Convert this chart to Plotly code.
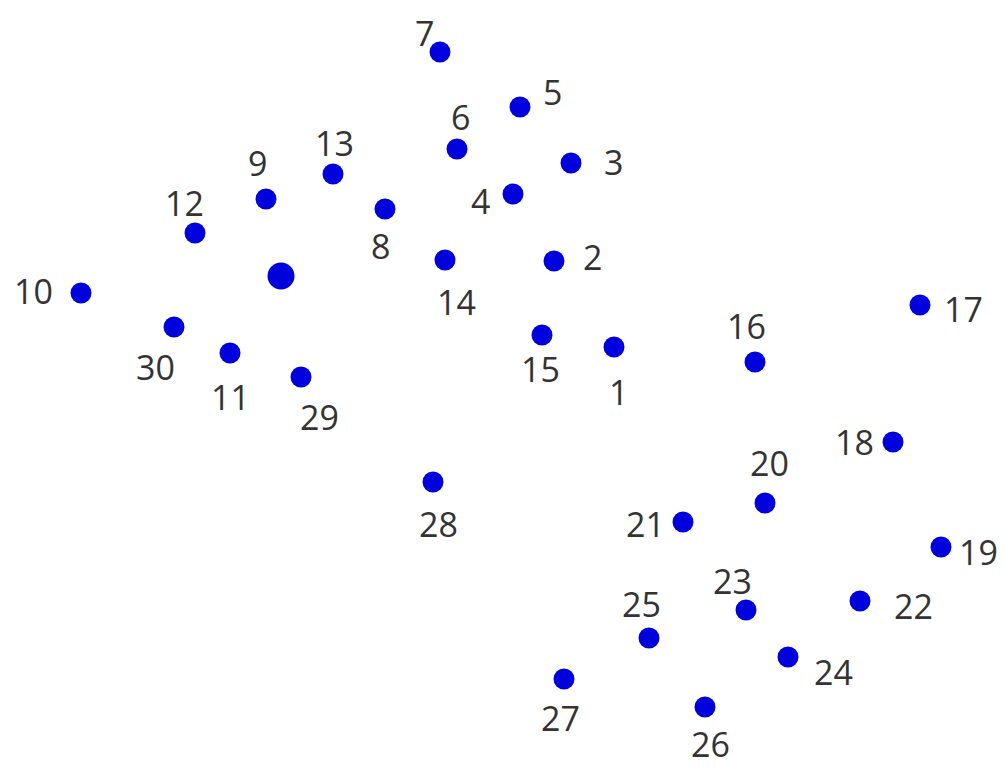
import plotly.graph_objects as go

labels = [str(i) for i in range(1, 31)]
x_vals = [614, 554, 571, 513, 520, 457, 440, 385, 266, 81,
          230, 195, 333, 445, 542, 755, 920, 893, 941, 765,
          683, 860, 746, 788, 649, 705, 564, 433, 301, 174]
y_vals = [347, 261, 163, 194, 107, 149, 52, 209, 199, 293,
          353, 233, 174, 260, 335, 362, 305, 442, 547, 503,
          522, 601, 610, 657, 638, 707, 679, 482, 377, 327]
extra_x = [281]
extra_y = [276]

# label offsets from each dot, in screen pixels (right, down)
label_dx = [4, 38, 42, -33, 32, 3, -16, -5, -9, -48,
            0, -11, 1, 11, -2, -9, 43, -39, 37, 4,
            -38, 53, -14, 45, -8, 5, -4, 5, 18, -19]
label_dy = [45, -4, -1, 7, -15, -32, -19, 37, -36, -2,
            44, -30, -31, 42, 34, -36, 4, 0, 5, -40,
            2, 5, -29, 15, -34, 37, 39, 42, 40, 40]

fig = go.Figure()
fig.add_trace(go.Scatter(
    x=x_vals, y=y_vals, mode="markers", text=labels,
    marker=dict(size=21, color="#0000dd"),
    hoverinfo="text", showlegend=False))
fig.add_trace(go.Scatter(
    x=extra_x, y=extra_y, mode="markers",
    marker=dict(size=27, color="#0000dd"), showlegend=False))

for lab, xv, yv, dx, dy in zip(labels, x_vals, y_vals, label_dx, label_dy):
    fig.add_annotation(
        x=xv, y=yv, text=lab, showarrow=False,
        xanchor="center", yanchor="middle",
        xshift=dx, yshift=-dy,
        font=dict(family="Open Sans", size=34, color="#333333"))

fig.update_layout(
    width=997, height=758, margin=dict(l=0, r=0, t=0, b=0),
    paper_bgcolor="white", plot_bgcolor="white",
    xaxis=dict(range=[8, 1005], visible=False, fixedrange=True),
    yaxis=dict(range=[766, 8], visible=False, fixedrange=True),
)
fig.write_html("out.html")
